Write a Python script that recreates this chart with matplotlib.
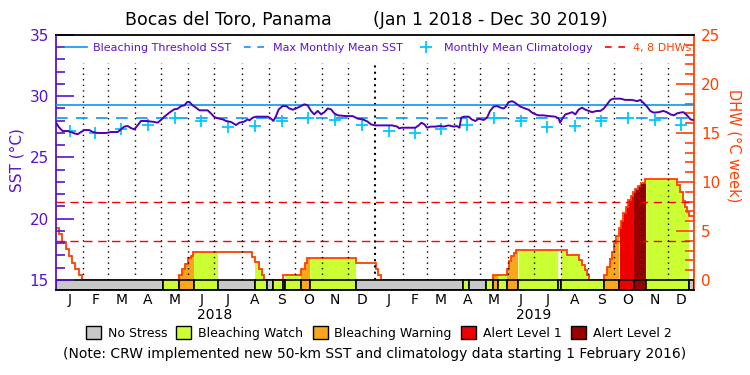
import numpy as np
import pandas as pd
import matplotlib
matplotlib.use('Agg')
import matplotlib.pyplot as plt
from matplotlib.lines import Line2D
from matplotlib.patches import Patch
from matplotlib.ticker import FixedLocator

# ---- data (x = days since 1 Jan 2018) ----
sst_day = [0, 3.8, 7.6, 13.3, 17, 21, 24.8, 28.6, 32.4, 38, 42, 45.7, 49.5, 57, 63, 70.5,
           74.3, 78, 82, 85.7, 89.5, 93.3, 97, 103, 108.6, 112.4, 116, 120, 123.8, 129.5,
           135, 139, 143, 146.7, 150, 152.4, 156, 160, 163.8, 167.6, 173.3, 177, 181,
           184.8, 190.5, 194.3, 200, 205.7, 209.5, 215, 219, 221, 224.8, 228.6, 236, 242,
           245.7, 248.4, 251.4, 254.5, 259, 263, 266.7, 270.5, 274.3, 280, 283.8, 287.6,
           291.4, 295, 299, 303, 306.7, 310.5, 314.3, 318, 322, 331.4, 339, 344.8, 350.5,
           356, 360, 365, 376, 384, 390, 392, 395, 410.6, 414.4, 417.5, 421, 424, 428,
           433.5, 439, 443, 448.7, 454.4, 458, 461, 463, 466, 471.6, 475, 479, 483, 488.7,
           492.5, 496, 500, 504, 507.8, 511.6, 514, 517, 521, 524, 526.8, 530.6, 536, 540,
           544, 548, 551.6, 557, 563, 570.6, 574.4, 576, 578, 582, 586, 589.7, 593.5, 597,
           601, 605, 608.7, 612.5, 618, 622, 626, 629.7, 633.5, 637, 645, 650.6, 658, 664,
           667.8, 671.6, 675.4, 679, 683, 688.7, 694, 698, 702, 706, 709.6, 713, 717, 721,
           725, 728]
sst_val = [27.84, 27.43, 27.16, 27.16, 27.08, 26.97, 26.9, 27.08, 27.24, 27.24, 27.08, 27.02,
           27.0, 27.0, 27.08, 27.08, 27.3, 27.52, 27.57, 27.4, 27.3, 27.62, 27.98, 27.98,
           27.93, 27.9, 27.84, 28.06, 28.33, 28.66, 28.93, 28.98, 29.2, 29.26, 29.53, 29.53,
           29.26, 29.07, 28.85, 28.85, 28.85, 28.6, 28.3, 28.2, 28.11, 27.98, 27.9, 27.65,
           27.84, 27.93, 28.11, 28.03, 28.25, 28.33, 28.33, 28.33, 28.17, 27.98, 28.38, 28.93,
           29.2, 29.2, 29.0, 28.9, 29.0, 29.2, 29.34, 29.26, 28.8, 28.52, 28.8, 28.52, 28.7,
           29.0, 28.93, 28.6, 28.44, 28.38, 28.38, 28.17, 28.11, 27.93, 27.7, 27.62, 27.62,
           27.62, 27.52, 27.38, 27.43, 27.43, 27.62, 27.84, 27.7, 27.43, 27.52, 27.52, 27.57,
           27.52, 27.62, 27.52, 27.57, 27.43, 28.25, 28.33, 28.33, 28.11, 27.98, 28.16, 28.06,
           28.25, 28.8, 29.15, 29.2, 29.07, 29.0, 29.15, 29.5, 29.6, 29.5, 29.34, 29.15, 29.0,
           28.9, 28.66, 28.52, 28.44, 28.44, 28.38, 28.33, 28.17, 27.84, 28.11, 28.52, 28.6,
           28.7, 28.52, 28.9, 29.07, 28.9, 28.8, 28.7, 28.8, 28.8, 29.0, 29.34, 29.7, 29.8,
           29.8, 29.7, 29.7, 29.6, 29.7, 29.42, 29.15, 28.8, 28.66, 28.7, 28.8, 28.7, 28.52,
           28.44, 28.6, 28.66, 28.7, 28.44, 28.11, 28.06]

clim = [27.16, 27.0, 27.32, 27.65, 28.25, 28.0, 27.48, 27.6, 27.98, 28.25, 28.08, 27.62]
mmm = 28.25
threshold = 29.25

dhw_day = [0, 3, 7, 11, 15, 18, 22, 26, 29.5,
           141, 144, 147.4, 151.2, 154, 156, 224.3, 227.4, 232, 235, 237.7,
           259.8, 280, 284.6, 287.2, 342.9, 365.3, 368.4, 371.4,
           499.8, 515, 517.7, 520.4, 523.4, 525.7, 583.6, 597.7, 601.5, 604.6, 607.2, 609.5,
           626.7, 629.7, 632.8, 635.4, 637.7, 640.4, 643, 645.7, 648.4, 651, 653.7, 656.8,
           659.5, 662, 664.5, 668, 672.8, 709.5, 713, 716, 719, 721.5, 723.6]
dhw_val = [5.3, 4.7, 3.9, 3.2, 2.4, 1.7, 1.1, 0.5, 0,
           0.5, 1.1, 1.6, 2.2, 2.5, 2.85, 2.3, 1.8, 1.1, 0.5, 0,
           0.5, 1.1, 1.7, 2.2, 1.7, 1.1, 0.5, 0,
           0.5, 1.1, 1.9, 2.4, 2.8, 3.03, 2.55, 2.04, 1.53, 1.02, 0.5, 0,
           0.5, 1.35, 2.1, 2.9, 3.8, 4.5, 5.3, 6.05, 6.8, 7.5, 8.2, 8.6,
           9.0, 9.3, 9.6, 9.9, 10.27, 9.7, 9.0, 8.1, 7.4, 6.9, 6.5]

# stress level per period: 0 no stress, 1 watch, 2 warning, 3 alert 1, 4 alert 2
stress_edges = [0, 122.7, 141, 158, 185.5, 227.4, 241.5, 248.4, 259.8, 261.7, 280, 290.3,
                342.9, 465.5, 472.4, 491, 499.8, 504.8, 515, 528.4, 574, 577, 626.6, 643.8,
                661, 674.3, 723.4, 729]
stress_level = [0, 1, 2, 1, 0, 1, 0, 1, 0, 1, 2, 1, 0,
                1, 0, 1, 2, 1, 2, 1, 0, 1, 2, 3, 4, 1, 0]
stress_names = ['No Stress', 'Bleaching Watch', 'Bleaching Warning', 'Alert Level 1', 'Alert Level 2']
stress_colors = ['#c8c8c8', '#ccff33', '#faa61a', '#ee0000', '#990000']

purple = '#5a14c8'
orange = '#ff4000'
blue = '#0a96f5'
cyan = '#00c8ff'
end_day = 729

months = pd.date_range('2018-01-01', '2019-12-01', freq='MS')
m_start = np.asarray((months - pd.Timestamp('2018-01-01')).days, dtype=float)
m_mid = m_start + np.asarray(months.days_in_month) / 2.0
m_letter = [m[0] for m in months.strftime('%b')]

fig = plt.figure(figsize=(7.5, 3.75), dpi=100)
ax = fig.add_axes([56 / 750, 85 / 375, 638 / 750, 255 / 375])
ax2 = ax.twinx()
ax.set_zorder(ax2.get_zorder() + 1)
ax.patch.set_visible(False)

# ---- DHW axis (right) ----
grid = np.arange(0, end_day + 0.001, 0.125)
dhw_arr = np.array(dhw_val)
lev_arr = np.array(stress_level)
dhw_grid = dhw_arr[np.searchsorted(dhw_day, grid, side='right') - 1]
lev_grid = lev_arr[np.clip(np.searchsorted(stress_edges, grid, side='right') - 1, 0, len(lev_arr) - 1)]
for k in range(1, 5):
    ax2.fill_between(grid, 0, dhw_grid, where=lev_grid == k, step='post',
                     color=stress_colors[k], lw=0, zorder=1)
ax2.stairs(dhw_val, dhw_day + [end_day], baseline=None, color=orange, lw=1.3, zorder=2)
for d in (4, 8):
    ax2.axhline(d, color='#ff0000', lw=1.0, dashes=(6, 4), zorder=2)

starts = np.array(stress_edges[:-1])
widths = np.diff(stress_edges)
ax2.bar(starts, 1.02, width=widths, bottom=-1.02, align='edge',
        color=[stress_colors[l] for l in stress_level], edgecolor='black', lw=1.2, zorder=3)

ax2.vlines([d for d in m_start[1:] if d != 365], 0, 22.1, colors='black',
           linestyles=(0, (1, 3)), lw=1.0, zorder=2.5)
ax2.vlines([365], 0, 22.1, colors='black', linestyles=(0, (1, 2)), lw=1.5, zorder=2.5)

ax2.set_ylim(-1.02, 25)
ax2.yaxis.set_major_locator(FixedLocator(range(0, 26, 5)))
ax2.yaxis.set_minor_locator(FixedLocator(range(0, 26)))
ax2.tick_params(axis='y', which='major', direction='in', length=13, width=1.2,
                colors=orange, labelsize=11, pad=5)
ax2.tick_params(axis='y', which='minor', direction='in', length=6.5, width=1.2, colors=orange)
for s in ('left', 'top', 'bottom'):
    ax2.spines[s].set_visible(False)
ax2.spines['right'].set_color(orange)
ax2.spines['right'].set_linewidth(1.3)
ax2.set_ylabel('DHW (\u00b0C week)', color=orange, fontsize=10.5, rotation=270, va='center')
ax2.yaxis.set_label_coords(1.062, 0.565)

# ---- SST axis (left) ----
ax.axhline(threshold, color=blue, lw=1.2, zorder=3)
ax.axhline(mmm, color=blue, lw=1.2, dashes=(7, 5), zorder=3)
ax.plot(m_mid, np.tile(clim, 2), ls='none', marker='+', ms=8, mew=1.3, color=cyan, zorder=4)
ax.plot(sst_day, sst_val, color='#5000b4', lw=1.4, zorder=5)

ax.set_xlim(0, end_day)
ax.set_ylim(14.18, 35)
ax.yaxis.set_major_locator(FixedLocator(range(15, 36, 5)))
ax.yaxis.set_minor_locator(FixedLocator(range(15, 36)))
ax.tick_params(axis='y', which='major', direction='in', length=13, width=1.2,
               colors=purple, labelsize=11, pad=5)
ax.tick_params(axis='y', which='minor', direction='in', length=6.5, width=1.2, colors=purple)
ax.set_xticks(m_mid)
ax.set_xticklabels(m_letter)
ax.tick_params(axis='x', length=0, labelsize=10, pad=2)
ax.spines['right'].set_visible(False)
ax.spines['left'].set_color(purple)
for s in ('left', 'top', 'bottom'):
    ax.spines[s].set_linewidth(1.3)
ax.set_ylabel('SST (\u00b0C)', color=purple, fontsize=11, va='center')
ax.yaxis.set_label_coords(-0.061, 0.51)

handles = [Line2D([], [], color=blue, lw=1.2),
           Line2D([], [], color=blue, lw=1.2, dashes=(4, 4)),
           Line2D([], [], ls='none', marker='+', ms=8, mew=1.3, color=cyan),
           Line2D([], [], color='#ff0000', lw=1.2, dashes=(4, 4))]
labels = ['Bleaching Threshold SST', 'Max Monthly Mean SST', 'Monthly Mean Climatology', '4, 8 DHWs']
ax.legend(handles, labels, loc='center', bbox_to_anchor=(0.505, 0.949), ncol=4, frameon=False,
          fontsize=8, handlelength=2.0, handletextpad=0.6, columnspacing=1.1,
          labelcolor=[purple, purple, purple, orange])

for yr, d in (('2018', 181), ('2019', 546)):
    ax.annotate(yr, xy=(d, 1 - 315 / 375), xycoords=('data', 'figure fraction'),
                ha='center', va='center', fontsize=10)

fig.text(125 / 750, 1 - 20 / 375, 'Bocas del Toro, Panama', fontsize=12.5, va='center', ha='left')
fig.text(373 / 750, 1 - 20 / 375, '(Jan 1 2018 - Dec 30 2019)', fontsize=12.5, va='center', ha='left')

patches = [Patch(facecolor=c, edgecolor='black', lw=1.0) for c in stress_colors]
fig.legend(patches, stress_names, loc='center', bbox_to_anchor=(0.505, 1 - 333 / 375), ncol=5,
           frameon=False, fontsize=9, handlelength=1.2, handleheight=1.2, handletextpad=0.55,
           columnspacing=0.75)
fig.text(0.5, 1 - 354 / 375,
         '(Note: CRW implemented new 50-km SST and climatology data starting 1 February 2016)',
         ha='center', va='center', fontsize=10)

fig.savefig('out.png', dpi=100)
